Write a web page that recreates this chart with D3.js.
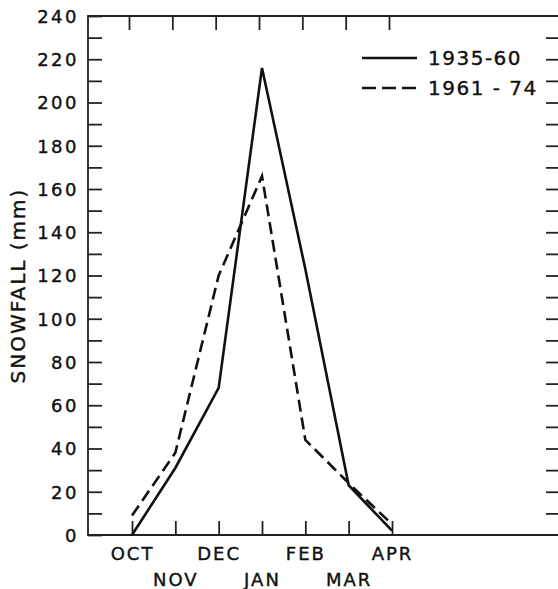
<!DOCTYPE html>
<html>
<head>
<meta charset="utf-8">
<script src="https://cdn.jsdelivr.net/npm/d3@7"></script>
<style>
  body { margin: 0; background: #fff; }
  svg text { font-family: "DejaVu Sans", sans-serif; fill: #111; stroke: #111; stroke-width: 0.4px; }
</style>
</head>
<body>
<div class="canvas"></div>
<script>
// data
const months = ['OCT', 'NOV', 'DEC', 'JAN', 'FEB', 'MAR', 'APR']
const snow1935 = [0, 31, 68, 216, 123, 23, 2]
const snow1961 = [9, 38, 120, 166, 44, 24, 5]
const yTicks = d3.range(0, 241, 10)
const seriesNames = ['1935-60', '1961 - 74']

const dims = { width: 558, height: 589 }
const frame = { left: 88, right: 560, top: 16, bottom: 535 }

const svg = d3.select('.canvas')
  .append('svg')
  .attr('width', dims.width)
  .attr('height', dims.height)

const x = d3.scalePoint().domain(months).range([132, 392])
const y = d3.scaleLinear().domain([0, 240]).range([frame.bottom, frame.top])

//? frame
svg.append('path')
  .attr('d', `M${frame.left},${frame.top}H${frame.right}V${frame.bottom}H${frame.left}Z`)
  .attr('fill', 'none')
  .attr('stroke', '#222')
  .attr('stroke-width', 1.8)

//? left axis, ticks inward, labels every 20
const leftAxis = svg.append('g')
  .attr('transform', `translate(${frame.left},0)`)
  .call(d3.axisLeft(y).tickValues(yTicks).tickSize(-14).tickPadding(9)
    .tickFormat(d => d % 20 === 0 ? d : ''))
leftAxis.select('.domain').remove()
leftAxis.selectAll('line').attr('stroke', '#222').attr('stroke-width', 1.8)
leftAxis.selectAll('text')
  .attr('font-size', 18)
  .attr('letter-spacing', 2.5)
  .attr('dy', '0.36em')

//? right axis ticks
const rightAxis = svg.append('g')
  .attr('transform', `translate(${frame.right},0)`)
  .call(d3.axisRight(y).tickValues(yTicks.slice(1, -1)).tickSize(-14).tickFormat(''))
rightAxis.select('.domain').remove()
rightAxis.selectAll('line').attr('stroke', '#222').attr('stroke-width', 1.8)

//? bottom axis, staggered labels
const bottomAxis = svg.append('g')
  .attr('transform', `translate(0,${frame.bottom})`)
  .call(d3.axisBottom(x).tickSize(-14).tickPadding(12))
bottomAxis.select('.domain').remove()
bottomAxis.selectAll('line').attr('stroke', '#222').attr('stroke-width', 1.8)
bottomAxis.selectAll('text')
  .attr('font-size', 18)
  .attr('letter-spacing', 2)
  .attr('y', (d, i) => i % 2 ? 38 : 12)

//? top axis ticks
const topAxis = svg.append('g')
  .attr('transform', `translate(-3,${frame.top})`)
  .call(d3.axisTop(x).tickSize(-14).tickFormat(''))
topAxis.select('.domain').remove()
topAxis.selectAll('line').attr('stroke', '#222').attr('stroke-width', 1.8)

//? y label
svg.append('text')
  .attr('transform', `translate(25,${(frame.top + frame.bottom) / 2 + 10}) rotate(-90)`)
  .attr('text-anchor', 'middle')
  .attr('font-size', 20)
  .attr('letter-spacing', 2)
  .text('SNOWFALL (mm)')

//? lines
const line = d3.line().x((d, i) => x(months[i])).y(d => y(d))

svg.append('path')
  .datum(snow1935)
  .attr('d', line)
  .attr('fill', 'none')
  .attr('stroke', '#111')
  .attr('stroke-width', 2.6)
  .attr('stroke-linejoin', 'miter')

svg.append('path')
  .datum(snow1961)
  .attr('d', line)
  .attr('fill', 'none')
  .attr('stroke', '#111')
  .attr('stroke-width', 2.6)
  .attr('stroke-dasharray', '12,6')

//? legend
const legend = svg.append('g').attr('transform', 'translate(362,58)')
seriesNames.forEach((name, i) => {
  const row = legend.append('g').attr('transform', `translate(0,${i * 30})`)
  row.append('line')
    .attr('x1', 0).attr('x2', 55)
    .attr('stroke', '#111')
    .attr('stroke-width', 2.6)
    .attr('stroke-dasharray', i ? '14,6' : null)
  row.append('text')
    .attr('x', 66)
    .attr('dy', '0.36em')
    .attr('font-size', 20)
    .attr('letter-spacing', 1.5)
    .text(name)
})
</script>
</body>
</html>
